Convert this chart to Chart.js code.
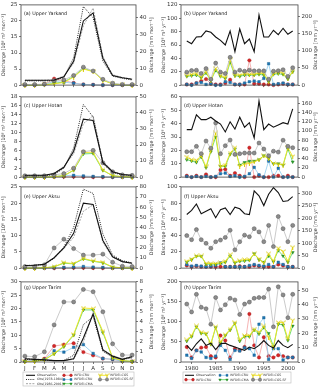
<!DOCTYPE html>
<html><head><meta charset="utf-8">
<script src="https://cdn.jsdelivr.net/npm/chart.js@4.4.1/dist/chart.umd.min.js"></script>
<style>
html,body{margin:0;padding:0;background:#fff;}
body{position:relative;width:320px;height:389px;overflow:hidden;}
canvas{position:absolute;}
</style></head><body>
<canvas id="pa"></canvas><canvas id="pb"></canvas>
<canvas id="pc"></canvas><canvas id="pd"></canvas>
<canvas id="pe"></canvas><canvas id="pf"></canvas>
<canvas id="pg"></canvas><canvas id="ph"></canvas>
<script>
const FONT = '"DejaVu Sans", sans-serif';
const months = ['J','F','M','A','M','J','J','A','S','O','N','D'];
const monthPos = [0,1,2,3,4,5,6,7,8,9,10,11];
const years = [1979,1980,1981,1982,1983,1984,1985,1986,1987,1988,1989,1990,1991,1992,1993,1994,1995,1996,1997,1998,1999,2000,2001];
const yearTicks = [1980,1985,1990,1995,2000];

// (a) Upper Yarkand, monthly [10^8 m3 mon-1]
const aObs     = [1.5,1.5,1.5,1.6,2.6,7.4,20.0,22.5,8.4,3.0,2.3,1.8];
const aObs7884 = [1.3,1.3,1.3,1.4,2.4,8.5,24.5,21.0,7.5,2.8,2.1,1.6];
const aObs8601 = [1.5,1.5,1.5,1.7,2.8,6.8,18.5,24.0,9.0,3.2,2.4,1.9];
const aWfdCru  = [0.0,0.0,0.3,2.0,1.4,0.7,0.2,0.1,0.0,0.0,0.0,0.0];
const aWfdeiCru= [0.0,0.0,0.2,1.1,0.9,0.6,0.2,0.1,0.0,0.0,0.0,0.0];
const aCma     = [0.0,0.0,0.1,0.5,1.0,2.7,5.2,4.3,1.6,0.4,0.1,0.0];
const aCgs     = [0.0,0.0,0.1,0.4,0.8,2.5,5.0,4.2,1.5,0.4,0.1,0.0];
const aSf      = [0.2,0.2,0.3,1.4,1.6,3.0,5.6,4.4,1.8,0.6,0.2,0.2];

// (c) Upper Hotan, monthly
const cObs     = [0.4,0.4,0.4,0.8,2.2,5.8,13.0,12.7,3.3,1.2,0.6,0.4];
const cObs7884 = [0.3,0.3,0.3,0.6,2.0,6.5,16.3,13.5,3.0,1.0,0.5,0.3];
const cObs8601 = [0.4,0.4,0.4,0.9,2.4,5.2,12.0,13.8,3.6,1.3,0.6,0.4];
const cWfdCru  = [0.0,0.0,0.0,0.05,0.1,0.1,0.05,0.0,0.0,0.0,0.0,0.0];
const cWfdeiCru= [0.0,0.0,0.0,0.1,0.3,0.4,0.25,0.15,0.1,0.0,0.0,0.0];
const cCma     = [0.0,0.0,0.0,0.1,0.3,1.5,5.2,5.3,1.5,0.3,0.1,0.0];
const cCgs     = [0.0,0.0,0.0,0.1,0.3,1.6,5.5,5.6,1.6,0.3,0.1,0.0];
const cSf      = [0.3,0.3,0.3,0.5,0.8,2.0,5.7,6.0,3.2,1.2,0.5,0.4];

// (e) Upper Aksu, monthly
const eObs     = [0.8,0.9,1.2,3.2,6.2,10.7,20.0,19.6,8.5,3.5,2.0,1.5];
const eObs7884 = [0.8,0.9,1.1,3.0,6.5,12.5,24.3,23.0,10.5,4.0,2.3,1.6];
const eObs8601 = [0.8,0.9,1.2,3.3,6.0,9.5,17.5,19.5,8.0,3.3,1.9,1.5];
const eWfdCru  = [0.0,0.0,0.0,0.0,0.05,0.1,0.1,0.05,0.0,0.0,0.0,0.0];
const eWfdeiCru= [0.0,0.0,0.0,0.1,0.2,0.3,0.5,0.3,0.2,0.0,0.0,0.0];
const eCma     = [0.0,0.0,0.1,0.4,1.5,1.3,2.8,2.1,1.6,0.3,0.1,0.0];
const eCgs     = [0.0,0.0,0.1,0.4,1.7,1.4,3.0,2.2,1.8,0.3,0.1,0.0];
const eSf      = [0.5,0.5,1.0,6.2,8.9,6.0,4.0,4.0,4.3,1.8,0.6,0.5];

// (g) Upper Tarim, monthly
const gObs     = [1.2,1.0,0.8,0.5,0.5,1.2,9.0,18.0,4.5,2.2,1.0,2.0];
const gObs7884 = [1.0,0.8,0.7,0.5,0.6,2.5,14.0,17.0,4.0,1.8,1.0,1.5];
const gObs8601 = [1.3,1.1,0.9,0.6,0.5,1.0,7.5,18.5,4.8,2.3,1.2,2.2];
const gWfdCru  = [0.3,0.5,1.2,6.0,6.5,7.0,3.7,2.5,1.3,1.0,0.3,0.2];
const gWfdeiCru= [0.3,0.5,1.0,4.2,3.7,5.5,6.5,3.2,1.3,1.0,0.3,0.2];
const gCma     = [0.2,0.2,0.8,3.0,5.7,10.0,19.5,19.5,11.0,1.5,0.5,0.2];
const gCgs     = [0.2,0.2,0.8,3.2,6.0,10.3,20.2,20.0,11.5,1.6,0.5,0.2];
const gSf      = [2.2,2.0,3.8,13.9,22.5,22.5,27.2,26.3,18.8,6.8,2.6,2.6];

// (b) Upper Yarkand, annual [10^8 m3 yr-1]
const bObs     = [66,62,72,72.5,81,79,72,67,60,81,50,84,62,69,50,105,72,72,82,75.5,85,76,81];
const bWfdCru  = [1,1,3,6,9,2,1,1,3,8,1,1,1,37,2,2,1,1,0,1,2,1,1];
const bWfdeiCru= [1,0,3,4,1,2,0,0,5,4,1,1,3,5,6,5,10,32,1,2,3,1,1];
const bCma     = [13,14,15,11,18,7,22,13,10,34,14,13,15,15,15,16,15,5,16,17,16,9,20];
const bCgs     = [14,16,17,12,20,7,25,14,11,38,15,15,17,16,16,18,17,6,17,19,18,10,21];
const bSf      = [19.4,21.8,22.3,17.4,24.7,8.7,32.9,19.4,17.4,41.6,19.4,22.3,20.8,22.3,21.3,21.3,21.3,8.7,20.8,21.5,23.0,13.0,26.0];

// (d) Upper Hotan, annual
const dObs     = [35.5,35.5,46.6,43,43,44.8,42,39.7,33.8,41.4,35.9,44.8,37.3,40.7,29.3,56.9,35.5,39.7,37.3,39,40.7,39.7,51];
const dWfdCru  = [1,0,1,0,2,0,0,5.3,5.8,1,3,1,0,22,0,1,0,0,1,1,0,1,0];
const dWfdeiCru= [0.5,0,0.5,0,0.5,0,0.5,2.5,3,0.5,1,0,0.5,2.5,7.3,1.7,0,12,0,6.6,0,0,0];
const dCma     = [13,12,11,15,7,19,30,8,8,17,21,9,11,12,12,13,16,14,10,10,9,21,11.4];
const dCgs     = [15,13,12.6,16,7.8,20,33,7.8,9,18,22,8,9.7,10.2,11.4,13,16,13.8,10.2,9.7,9,22,15.5];
const dSf      = [19,19,23,17.5,27,21.6,40.5,17.5,23.5,27.7,17,17.5,18,18,18,25.5,21,16,19.4,18.7,27.6,23,22];

// (f) Upper Aksu, annual
const fObs     = [66,71,79,67,70,73,62,72,74,66,75,73,67,66,95,89,77,91,99,93,82,83,88];
const fWfdCru  = [3.2,1.6,2.4,1.6,1.6,1.6,1.6,1.6,1.6,1.6,1.6,2.4,1.6,1.6,3.2,2.4,1.6,1.6,1.6,4.4,3.2,1.6,1.6];
const fWfdeiCru= [4.4,2.4,3.2,2.4,1.6,2.4,3.2,6.4,1.6,1.6,1.6,1.6,1.6,3.2,4.4,3.2,2.4,4.4,1.6,7.2,4.4,1.6,1.6];
const fCma     = [7.2,10.4,14.5,14.5,4.8,4.8,4.8,5.6,7.2,15,6.4,8.4,8.8,9.6,17.7,10.4,7.2,15,8,21.7,15,7.2,19.3];
const fCgs     = [8.4,11,15,15,5.6,5.6,5.6,6.4,8.4,16.5,7.2,9.2,10.4,10.4,17.7,11.2,6.4,17.7,8.4,24.5,20.5,8.4,25.7];
const fSf      = [40,35,47.4,35,30.5,24.5,32.5,34.5,37.8,46.6,22.5,32.5,40.6,38.6,48.6,44.6,32.5,52.6,26.5,63.5,48.6,32.5,52.6];

// (h) Upper Tarim, annual
const hObs     = [41.5,29,45.5,57.7,41.5,47,31,45.5,47,41.5,37.4,33.3,29,37.4,33.3,41.5,53.7,41.5,35,53.7,41.5,35.8,44];
const hWfdCru  = [37.4,11.4,29,35.8,37.4,14.6,11.4,66,53.7,11.4,33.3,29,37.4,120,41.5,11.4,61.8,14.6,11.4,17,14.6,11.4,11.4];
const hWfdeiCru= [17,9,29,25,11.4,9,14.6,41.5,29,6.5,29,27.6,35.8,33.3,17,94.3,110.6,6.5,33.3,33.3,4.9,11.4,11.4];
const hCma     = [52,63.4,87.8,71.5,70,44,86,47,66,79.7,96,52,63.4,63.4,79.7,70,86,71.5,39,94.3,92.7,53.7,90];
const hCgs     = [55,66,90,74,71.5,45.5,88,49.6,68,82,98.4,55,66,66,82,74,90,61.8,35.8,98.4,98.4,57.7,104];
const hSf      = [144.7,125,169,136.6,133,94.3,161,130,143,159,155,118.7,144.7,149.6,159,161,161,182,87.8,187.8,167.5,110.6,169];

// ---------- styling ----------
function makeTri(color){
  const c=document.createElement('canvas'); c.width=5; c.height=5;
  const x=c.getContext('2d'); x.strokeStyle=color; x.lineWidth=1;
  x.beginPath(); x.moveTo(2.5,2.5); x.lineTo(2.5,5); x.moveTo(2.5,2.5); x.lineTo(0.3,0.9);
  x.moveTo(2.5,2.5); x.lineTo(4.7,0.9); x.stroke(); return c;
}
const triDown = makeTri('#d8c800');
const STY = {
  OBS:{borderColor:'#111',borderWidth:1.1,pointRadius:0},
  O78:{borderColor:'#111',borderWidth:0.9,borderDash:[1,1.2],pointRadius:0},
  O86:{borderColor:'#9a9a9a',borderWidth:0.9,borderDash:[2,1.2],pointRadius:0},
  WFD:{borderColor:'#f2a0a0',borderWidth:0.8,pointStyle:'circle',pointRadius:1.7,pointBackgroundColor:'#d62728',pointBorderColor:'#a01515',pointBorderWidth:0.4},
  CRU:{borderColor:'#8ccbef',borderWidth:0.8,pointStyle:'rect',pointRadius:1.8,pointBackgroundColor:'#1f77b4',pointBorderColor:'#145a8c',pointBorderWidth:0.4},
  CMA:{borderColor:'#66d966',borderWidth:0.9,pointStyle:'triangle',pointRotation:180,pointRadius:1.8,pointBackgroundColor:'#2ca02c',pointBorderColor:'#1a7a1a',pointBorderWidth:0.4},
  CGS:{borderColor:'#f2e51e',borderWidth:0.9,pointStyle:triDown,pointRadius:2.5},
  SF:{borderColor:'#c4c4c4',borderWidth:0.9,pointStyle:'circle',pointRadius:2.0,pointBackgroundColor:'#8c8c8c',pointBorderColor:'#555',pointBorderWidth:0.5}
};
function S(xs, ys, key, label){
  return Object.assign({label, data: ys.map((y,i)=>({x:xs[i], y})), yAxisID:'y', clip:false, fill:false, tension:0}, STY[key]);
}
function monthlySets(obs,o78,o86,wfd,cru,cma,cgs,sf){
  return [S(monthPos,obs,'OBS','Observation'),S(monthPos,o78,'O78','Obs(1978-1984)'),S(monthPos,o86,'O86','Obs(1986-2001)'),
    S(monthPos,sf,'SF','WFDEI-CGS-SF'),S(monthPos,cgs,'CGS','WFDEI-CGS'),S(monthPos,cma,'CMA','WFDEI-CMA'),
    S(monthPos,cru,'CRU','WFDEI-CRU'),S(monthPos,wfd,'WFD','WFD-CRU')];
}
function annualSets(obs,wfd,cru,cma,cgs,sf){
  return [S(years,obs,'OBS','Observation'),S(years,sf,'SF','WFDEI-CGS-SF'),S(years,cgs,'CGS','WFDEI-CGS'),
    S(years,cma,'CMA','WFDEI-CMA'),S(years,cru,'CRU','WFDEI-CRU'),S(years,wfd,'WFD','WFD-CRU')];
}
function mkX(monthly, show, height){
  return {type:'linear', min: monthly?-0.4:1977.8, max: monthly?11.4:2002.1,
    afterBuildTicks: s=>{ s.ticks=(monthly?monthPos:yearTicks).map(v=>({value:v})); },
    ticks:{display:show, autoSkip:false, maxRotation:0, minRotation:0, padding:1.5,
      font:{family:FONT,size:5.5}, color:'#333', callback: v => monthly ? months[v] : String(v)},
    grid:{drawOnChartArea:false, drawTicks:true, tickLength:2, color:'#444', lineWidth:0.7},
    border:{display:false},
    afterFit: s=>{ s.height=height; s.paddingLeft=0; s.paddingRight=0; }};
}
function mkY(pos, max, ticks, title, width){
  return {type:'linear', position:pos, min:0, max,
    afterBuildTicks: s=>{ s.ticks=ticks.map(v=>({value:v})); },
    ticks:{autoSkip:false, padding:1.5, font:{family:FONT,size:5.5}, color:'#333'},
    grid:{drawOnChartArea:false, drawTicks:true, tickLength:2, color:'#444', lineWidth:0.7},
    border:{display:false},
    title:{display: pos==='left', text:title, color:'#333', font:{family:FONT,size:4.8}, padding:{top:1,bottom:0}},
    afterFit: s=>{ s.width=width; s.paddingTop=0; s.paddingBottom=0; }};
}
function framePlugin(label, dy, rightTitle){
  return {id:'frame', afterDraw(chart){
    const {ctx, chartArea:a}=chart; ctx.save();
    ctx.strokeStyle='#444'; ctx.lineWidth=0.8;
    ctx.strokeRect(a.left, a.top, a.right-a.left, a.bottom-a.top);
    ctx.fillStyle='#222'; ctx.font='4.8px '+FONT; ctx.textBaseline='middle'; ctx.textAlign='left';
    ctx.fillText(label, a.left+3, a.top+dy);
    // right-hand axis title, reading bottom-to-top like the left one
    ctx.fillStyle='#333'; ctx.textAlign='center';
    ctx.translate(chart.width-3.9, (a.top+a.bottom)/2); ctx.rotate(-Math.PI/2);
    ctx.fillText(rightTitle, 0, 0);
    ctx.restore();
  }};
}
function legendPlugin(box, cols, rows, entries){
  return {id:'lg', afterDraw(chart){
    const ctx=chart.ctx; ctx.save();
    ctx.fillStyle='#fff'; ctx.fillRect(box[0],box[1],box[2],box[3]);
    ctx.strokeStyle='#bbb'; ctx.lineWidth=0.6; ctx.strokeRect(box[0],box[1],box[2],box[3]);
    entries.forEach(e=>{
      const d=chart.data.datasets.find(s=>s.label===e[0]);
      const x=cols[e[1]], y=rows[e[2]];
      ctx.save(); ctx.strokeStyle=d.borderColor; ctx.lineWidth=d.borderWidth; ctx.setLineDash(d.borderDash||[]);
      ctx.beginPath(); ctx.moveTo(x,y); ctx.lineTo(x+9,y); ctx.stroke(); ctx.restore();
      if(d.pointRadius>0){
        const opts={pointStyle:d.pointStyle, rotation:d.pointRotation||0, radius:d.pointRadius*0.8, borderWidth:d.pointBorderWidth||0};
        [x+1,x+8].forEach(px=>{
          ctx.save(); ctx.fillStyle=d.pointBackgroundColor||d.borderColor; ctx.strokeStyle=d.pointBorderColor||d.borderColor;
          ctx.lineWidth=opts.borderWidth;
          Chart.helpers.drawPoint(ctx, opts, px, y); ctx.restore();
        });
      }
      ctx.fillStyle='#333'; ctx.font='3.2px '+FONT; ctx.textBaseline='middle'; ctx.textAlign='left';
      ctx.fillText(e[0], x+11, y);
    });
    ctx.restore();
  }};
}
function makeChart(id, l, t, w, h, xCfg, yCfg, y2Cfg, sets, label, dy, rTitle, extra){
  const cv=document.getElementById(id);
  cv.width=w; cv.height=h; cv.style.left=l+'px'; cv.style.top=t+'px'; cv.style.width=w+'px'; cv.style.height=h+'px';
  return new Chart(cv, {type:'line', data:{datasets:sets},
    options:{responsive:false, animation:false, devicePixelRatio:1, events:[],
      layout:{padding:{top:3,left:0,right:0,bottom:0}},
      plugins:{legend:{display:false}, tooltip:{enabled:false}},
      scales:{x:xCfg, y:yCfg, y2:y2Cfg}},
    plugins:[framePlugin(label,dy,rTitle)].concat(extra||[])});
}
const tM='Discharge [10\u2078 m\u00B3 mon\u207B\u00B9]', tMm='Discharge [mm mon\u207B\u00B9]';
const tY='Discharge [10\u2078 m\u00B3 yr\u207B\u00B9]', tYm='Discharge [mm yr\u207B\u00B9]';

// left column (monthly)
makeChart('pa',0,0,156,90, mkX(true,false,4), mkY('left',25,[0,5,10,15,20,25],tM,21), mkY('right',47.6,[0,10,20,30,40],tMm,20),
  monthlySets(aObs,aObs7884,aObs8601,aWfdCru,aWfdeiCru,aCma,aCgs,aSf), '(a) Upper Yarkand', 9, tMm);
makeChart('pc',0,92,156,90, mkX(true,false,4), mkY('left',18,[0,2,4,6,8,10,12,14,16,18],tM,21), mkY('right',50,[0,10,20,30,40,50],tMm,20),
  monthlySets(cObs,cObs7884,cObs8601,cWfdCru,cWfdeiCru,cCma,cCgs,cSf), '(c) Upper Hotan', 8.5, tMm);
makeChart('pe',0,182,156,91, mkX(true,false,4), mkY('left',25,[0,5,10,15,20,25],tM,21), mkY('right',80,[0,10,20,30,40,50,60,70,80],tMm,20),
  monthlySets(eObs,eObs7884,eObs8601,eWfdCru,eWfdeiCru,eCma,eCgs,eSf), '(e) Upper Aksu', 10, tMm);
makeChart('pg',0,277,156,112, mkX(true,true,27), mkY('left',30,[0,5,10,15,20,25,30],tM,21), mkY('right',8,[0,1,2,3,4,5,6,7,8],tMm,20),
  monthlySets(gObs,gObs7884,gObs8601,gWfdCru,gWfdeiCru,gCma,gCgs,gSf), '(g) Upper Tarim', 6, tMm,
  [legendPlugin([23,95,111,14],[26,63,99],[98.3,102.5,106.7],
    [['Observation',0,0],['Obs(1978-1984)',0,1],['Obs(1986-2001)',0,2],['WFD-CRU',1,0],['WFDEI-CRU',1,1],['WFDEI-CMA',1,2],['WFDEI-CGS',2,0],['WFDEI-CGS-SF',2,1]])]);

// right column (annual)
makeChart('pb',160,0,160,90, mkX(false,false,4), mkY('left',120,[0,20,40,60,80,100,120],tY,21), mkY('right',234,[0,50,100,150,200],tYm,22),
  annualSets(bObs,bWfdCru,bWfdeiCru,bCma,bCgs,bSf), '(b) Upper Yarkand', 9, tYm);
makeChart('pd',160,92,160,90, mkX(false,false,4), mkY('left',60,[0,10,20,30,40,50,60],tY,21), mkY('right',174,[0,20,40,60,80,100,120,140,160],tYm,22),
  annualSets(dObs,dWfdCru,dWfdeiCru,dCma,dCgs,dSf), '(d) Upper Hotan', 8.5, tYm);
makeChart('pf',160,182,160,91, mkX(false,false,4), mkY('left',100,[0,20,40,60,80,100],tY,21), mkY('right',325,[0,50,100,150,200,250,300],tYm,22),
  annualSets(fObs,fWfdCru,fWfdeiCru,fCma,fCgs,fSf), '(f) Upper Aksu', 10, tYm);
makeChart('ph',160,277,160,112, mkX(false,true,27), mkY('left',200,[0,50,100,150,200],tY,21), mkY('right',55.7,[0,10,20,30,40,50],tYm,22),
  annualSets(hObs,hWfdCru,hWfdeiCru,hCma,hCgs,hSf), '(h) Upper Tarim', 6, tYm,
  [legendPlugin([23,95,108,11],[25,59,92],[98.3,102.7],
    [['Observation',0,0],['WFD-CRU',0,1],['WFDEI-CRU',1,0],['WFDEI-CMA',1,1],['WFDEI-CGS',2,0],['WFDEI-CGS-SF',2,1]])]);
</script>
</body></html>
